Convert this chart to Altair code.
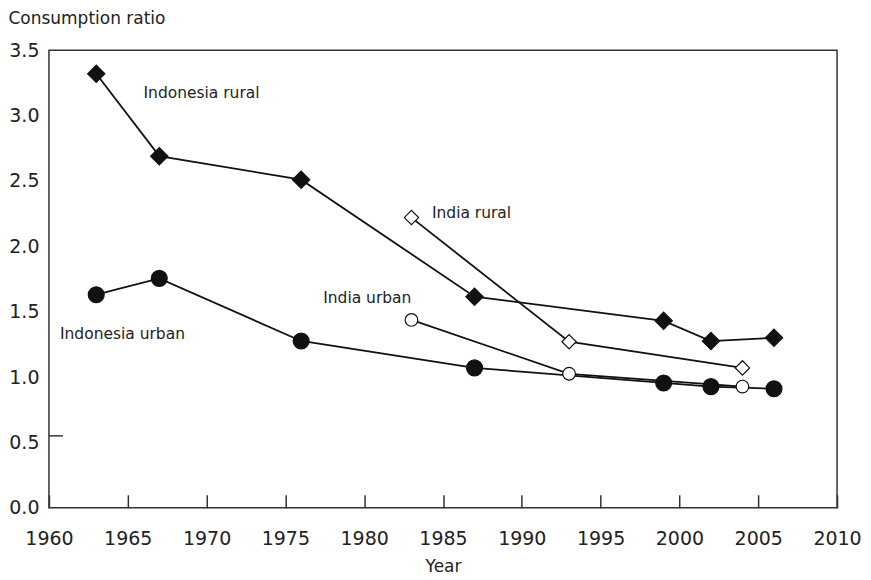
import altair as alt
import pandas as pd

# ---- data ----
years_indonesia = [1963, 1967, 1976, 1987, 1999, 2002, 2006]
indonesia_rural = [3.32, 2.69, 2.51, 1.615, 1.43, 1.275, 1.30]
indonesia_urban = [1.63, 1.755, 1.276, 1.07, 0.955, 0.927, 0.91]

years_india = [1983, 1993, 2004]
india_rural = [2.22, 1.27, 1.07]
india_urban = [1.437, 1.025, 0.927]

x_ticks = [1960, 1965, 1970, 1975, 1980, 1985, 1990, 1995, 2000, 2005, 2010]
y_ticks = [0.0, 0.5, 1.0, 1.5, 2.0, 2.5, 3.0, 3.5]

label_text = ["Indonesia rural", "India rural", "India urban", "Indonesia urban"]
label_year = [1966.0, 1984.3, 1977.4, 1960.7]
label_value = [3.133, 2.216, 1.567, 1.291]

odd_tick_value = [0.55]

FONT = "DejaVu Sans"
INK = "#111111"
TXT = "#222222"

rows = []
for y, v in zip(years_indonesia, indonesia_rural):
    rows.append({"series": "Indonesia rural", "year": y, "value": v})
for y, v in zip(years_indonesia, indonesia_urban):
    rows.append({"series": "Indonesia urban", "year": y, "value": v})
for y, v in zip(years_india, india_rural):
    rows.append({"series": "India rural", "year": y, "value": v})
for y, v in zip(years_india, india_urban):
    rows.append({"series": "India urban", "year": y, "value": v})
df = pd.DataFrame(rows)

labels_df = pd.DataFrame({"text": label_text, "year": label_year, "value": label_value})
tick_df = pd.DataFrame({"value": odd_tick_value})

series_order = ["Indonesia rural", "Indonesia urban", "India rural", "India urban"]

x_scale = alt.Scale(domain=[1960, 2010], nice=False, zero=False)
y_scale = alt.Scale(domain=[0, 3.5], nice=False)

x_enc = alt.X(
    "year:Q",
    scale=x_scale,
    axis=alt.Axis(
        values=x_ticks,
        format="d",
        title="Year",
        offset=-13,
        tickSize=13,
        tickColor="#333333",
        tickWidth=1.5,
        domain=False,
        grid=False,
        labelFlush=False,
        labelOverlap=False,
        labelPadding=22,
        labelFont=FONT,
        labelFontSize=19,
        labelColor=TXT,
        labelBaseline="top",
        titleFont=FONT,
        titleFontSize=17,
        titleFontWeight="normal",
        titleColor=TXT,
        titleBaseline="alphabetic",
        titleY=77,
    ),
)
y_enc = alt.Y(
    "value:Q",
    scale=y_scale,
    axis=alt.Axis(
        values=y_ticks,
        format=".1f",
        title="Consumption ratio",
        ticks=False,
        tickSize=0,
        domain=False,
        grid=False,
        labelFlush=False,
        labelOverlap=False,
        labelPadding=10,
        labelFont=FONT,
        labelFontSize=19,
        labelColor=TXT,
        titleFont=FONT,
        titleFontSize=17,
        titleFontWeight="normal",
        titleColor=TXT,
        titleAngle=0,
        titleAlign="left",
        titleBaseline="alphabetic",
        titleX=-41,
        titleY=-27,
    ),
)

lines = alt.Chart(df).mark_line(color=INK, strokeWidth=1.8).encode(
    x=x_enc, y=y_enc, detail="series:N", order="year:Q"
)

shape_scale = alt.Scale(
    domain=series_order, range=["diamond", "circle", "diamond", "circle"]
)
fill_scale = alt.Scale(domain=series_order, range=[INK, INK, "white", "white"])
size_scale = alt.Scale(domain=series_order, range=[300, 160, 300, 160])

points = alt.Chart(df).mark_point(
    filled=True, stroke=INK, strokeWidth=1.2, opacity=1
).encode(
    x=x_enc,
    y=y_enc,
    shape=alt.Shape("series:N", scale=shape_scale, legend=None),
    fill=alt.Fill("series:N", scale=fill_scale, legend=None),
    size=alt.Size("series:N", scale=size_scale, legend=None),
)

texts = alt.Chart(labels_df).mark_text(
    align="left", baseline="alphabetic", font=FONT, fontSize=15.5, color=TXT
).encode(x=x_enc, y=y_enc, text="text:N")

odd_tick = alt.Chart(tick_df).mark_rule(color="#333333", strokeWidth=1.5).encode(
    x=alt.value(0), x2=alt.value(14), y=y_enc
)

chart = (
    alt.layer(lines, points, texts, odd_tick)
    .properties(
        width=789,
        height=458,
        background="white",
        autosize=alt.AutoSizeParams(type="none"),
        padding={"left": 41, "top": 42, "right": 26, "bottom": 70},
    )
    .configure_view(stroke="#333333", strokeWidth=1.5)
)

chart.save("out.html", embed_options={"renderer": "svg", "actions": False})
